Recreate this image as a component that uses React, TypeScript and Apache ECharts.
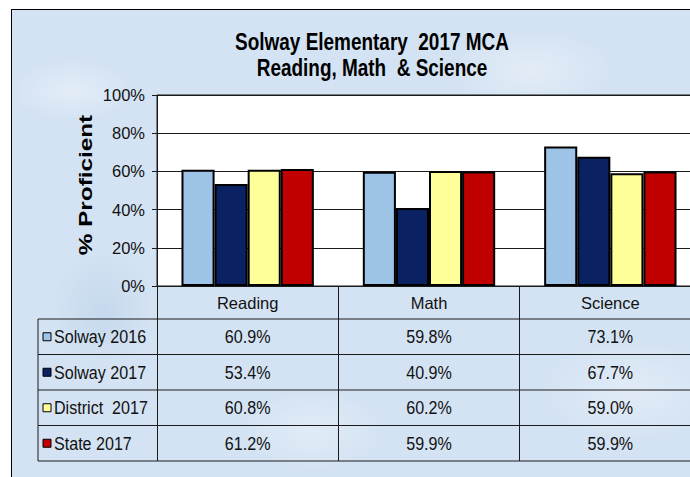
import React, { useEffect, useRef } from 'react';
import * as echarts from 'echarts';

// ---- data ----
const categories = ['Reading', 'Math', 'Science'];
const seriesNames = ['Solway 2016', 'Solway 2017', 'District  2017', 'State 2017'];
const solway2016 = [60.9, 59.8, 73.1];
const solway2017 = [53.4, 40.9, 67.7];
const district2017 = [60.8, 60.2, 59.0];
const state2017 = [61.2, 59.9, 59.9];
const seriesValues = [solway2016, solway2017, district2017, state2017];
const seriesColors = ['#9dc3e6', '#0a2261', '#ffff99', '#c00000'];
const yMin = 0;
const yMax = 100;
const yStep = 20;
const titleLines = ['Solway Elementary  2017 MCA', 'Reading, Math  & Science'];
const yAxisTitle = '% Proficient';

// ---- layout ----
const FONT = "'Liberation Sans', Arial, sans-serif";
const NARROW_SCALE = 0.87;
const GRID_LEFT = 157;
const GRID_TOP = 95;
const GRID_W = 544;
const GRID_H = 191;
const HEADER_H = 33;
const ROW_H = 35.5;
const TABLE_LEFT = 38;
const LINE = '#1a1a1a';

export default function App() {
  const ref = useRef<HTMLDivElement>(null);

  useEffect(() => {
    document.body.style.margin = '0';
    if (!ref.current) return;
    const chart = echarts.init(ref.current, null, { renderer: 'svg' });
    const tableBottom = GRID_TOP + GRID_H + HEADER_H + ROW_H * seriesNames.length;
    chart.setOption({
      animation: false,
      grid: {
        left: GRID_LEFT,
        top: GRID_TOP,
        width: GRID_W,
        height: GRID_H,
        outerBoundsMode: 'none',
        containLabel: false,
        show: true,
        backgroundColor: '#ffffff',
        borderColor: LINE,
        borderWidth: 1,
      },
      xAxis: {
        type: 'category',
        data: categories,
        axisLine: { show: true, lineStyle: { color: LINE, width: 1 } },
        axisTick: {
          show: true,
          length: tableBottom - (GRID_TOP + GRID_H),
          lineStyle: { color: LINE, width: 1 },
        },
        axisLabel: {
          fontFamily: FONT,
          fontSize: 16.5,
          color: '#111',
          margin: 8,
        },
      },
      yAxis: {
        type: 'value',
        min: yMin,
        max: yMax,
        interval: yStep,
        axisLine: { show: true, lineStyle: { color: LINE, width: 1 } },
        axisTick: { show: true, length: 5, lineStyle: { color: LINE } },
        axisLabel: {
          formatter: '{value}%',
          fontFamily: FONT,
          fontSize: 16.5,
          color: '#111',
          margin: 12,
        },
        splitLine: { show: true, lineStyle: { color: LINE, width: 1 } },
      },
      series: seriesNames.map((name, i) => ({
        name,
        type: 'bar',
        data: seriesValues[i],
        barGap: '0%',
        barCategoryGap: '27%',
        itemStyle: { color: seriesColors[i], borderColor: '#000', borderWidth: 2 },
      })),
    });

    const centers = categories.map((c) => chart.convertToPixel({ xAxisIndex: 0 }, c) as number);
    const axisY = chart.convertToPixel({ yAxisIndex: 0 }, yMin) as number;
    const firstRowTop = axisY + HEADER_H;
    const right = GRID_LEFT + GRID_W;
    const graphic: any[] = [];

    // title
    titleLines.forEach((t, i) => {
      graphic.push({
        type: 'text',
        silent: true,
        x: 372,
        y: 41.5 + i * 26.5,
        scaleX: 0.79,
        style: {
          text: t,
          fontFamily: FONT,
          fontWeight: 'bold',
          fontSize: 24,
          fill: '#000',
          align: 'center',
          verticalAlign: 'middle',
        },
      });
    });

    // table grid lines
    for (let r = 0; r <= seriesNames.length; r++) {
      const y = firstRowTop + r * ROW_H;
      graphic.push({
        type: 'line',
        silent: true,
        shape: { x1: TABLE_LEFT, y1: y, x2: right, y2: y },
        style: { stroke: LINE, lineWidth: 1 },
      });
    }
    graphic.push({
      type: 'line',
      silent: true,
      shape: { x1: TABLE_LEFT, y1: firstRowTop, x2: TABLE_LEFT, y2: firstRowTop + ROW_H * seriesNames.length },
      style: { stroke: LINE, lineWidth: 1 },
    });

    // legend keys, names and values
    seriesNames.forEach((name, r) => {
      const cy = firstRowTop + r * ROW_H + ROW_H / 2;
      graphic.push({
        type: 'rect',
        silent: true,
        shape: { x: 43, y: cy - 4, width: 8, height: 8 },
        style: { fill: seriesColors[r], stroke: '#000', lineWidth: 1 },
      });
      graphic.push({
        type: 'text',
        silent: true,
        x: 54,
        y: cy,
        scaleX: NARROW_SCALE,
        style: {
          text: name,
          fontFamily: FONT,
          fontSize: 18.5,
          fill: '#111',
          align: 'left',
          verticalAlign: 'middle',
        },
      });
      seriesValues[r].forEach((v, c) => {
        graphic.push({
          type: 'text',
          silent: true,
          x: centers[c],
          y: cy,
          scaleX: NARROW_SCALE,
          style: {
            text: v.toFixed(1) + '%',
            fontFamily: FONT,
            fontSize: 18.5,
            fill: '#111',
            align: 'center',
            verticalAlign: 'middle',
          },
        });
      });
    });

    // y axis title
    graphic.push({
      type: 'text',
      silent: true,
      x: 86,
      y: 185,
      rotation: Math.PI / 2,
      scaleX: 1.35,
      style: {
        text: yAxisTitle,
        fontFamily: FONT,
        fontWeight: 'bold',
        fontSize: 18,
        fill: '#000',
        align: 'center',
        verticalAlign: 'middle',
      },
    });
    chart.setOption({ graphic });

    return () => chart.dispose();
  }, []);

  const texture =
    'radial-gradient(ellipse 60px 30px at 60px 80px, rgba(255,255,255,0.35), rgba(255,255,255,0)),' +
    'radial-gradient(ellipse 80px 40px at 520px 60px, rgba(255,255,255,0.35), rgba(255,255,255,0)),' +
    'radial-gradient(ellipse 70px 40px at 300px 420px, rgba(255,255,255,0.3), rgba(255,255,255,0)),' +
    'radial-gradient(ellipse 90px 50px at 620px 380px, rgba(255,255,255,0.3), rgba(255,255,255,0)),' +
    'radial-gradient(ellipse 50px 60px at 90px 300px, rgba(170,195,225,0.35), rgba(170,195,225,0))';

  return (
    <div style={{ position: 'relative', width: 690, height: 477, overflow: 'hidden', background: '#fff' }}>
      <div
        style={{
          position: 'absolute',
          left: 11,
          top: 9,
          width: 720,
          height: 500,
          background: '#d4e3f3',
          backgroundImage: texture,
          border: '1.5px solid #000',
          boxSizing: 'border-box',
        }}
      />
      <div ref={ref} style={{ position: 'absolute', left: 0, top: 0, width: 690, height: 477 }} />
    </div>
  );
}
